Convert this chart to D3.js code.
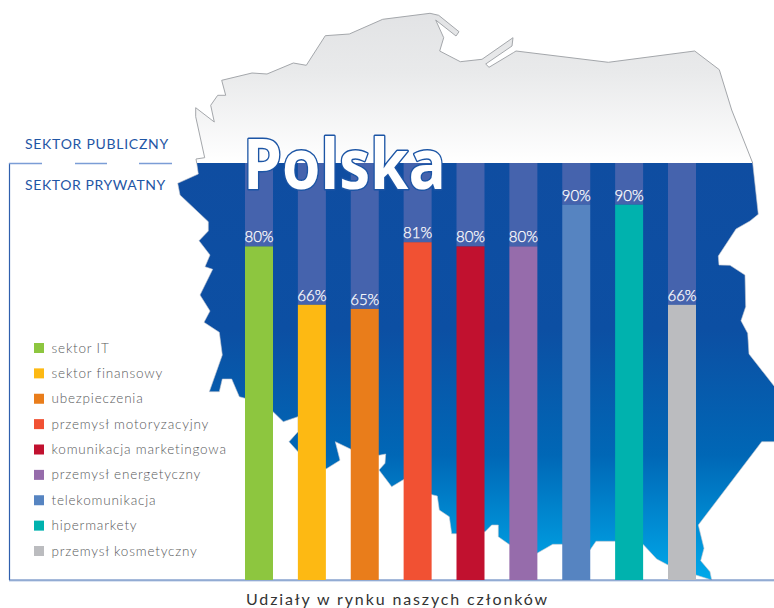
<!DOCTYPE html>
<html><head>
<meta charset="utf-8">
<title>Polska</title>
<script src="https://d3js.org/d3.v7.min.js"></script>
<style>
  html, body { margin: 0; padding: 0; background: #fff; }
  svg { display: block; }
  text { font-family: Lato, sans-serif; }
</style>
</head>
<body>
<svg id="chart" width="774" height="608"></svg>
<script>
// categories and values
const sectors = ["sektor IT", "sektor finansowy", "ubezpieczenia", "przemysł motoryzacyjny",
  "komunikacja marketingowa", "przemysł energetyczny", "telekomunikacja", "hipermarkety", "przemysł kosmetyczny"];
const privateShare = [80, 66, 65, 81, 80, 80, 90, 90, 66];
const sectorColors = ["#8dc63f", "#fdb913", "#e97d1b", "#f15133", "#c1112f", "#966cab", "#5684c1", "#00b2ae", "#bbbcbf"];

// outline of the country
const mapOutline = [[196.7,163],[196,159],[204.7,157.7],[195.7,116.7],[195.7,107.7],[214.3,122],[210.7,105.3],[217.7,95.3],
  [225.7,95.3],[221.7,80.3],[252,73],[267,74],[293.3,63],[306.3,65.3],[325.3,35.7],[349.3,34],[382.7,19.3],[430,13.3],
  [438.7,15.3],[459,31.7],[456,36],[435.7,20],[443.7,37.7],[439.7,51],[460.3,61.7],[482,59.3],[513,37.7],[512,46],
  [485.7,64],[489,67.3],[513.3,52.7],[516,51],[608.3,62.3],[694.7,51],[719.3,69.7],[731.7,110],[752.7,163],[758.3,214.3],
  [750,221],[736,229],[718.3,256],[719,265],[730,265.3],[745,275],[745.7,306.7],[741,320.7],[747.7,333.3],[749,354],
  [778,391],[778,441.7],[761.7,441.7],[698.3,525],[704,548.3],[700.7,560.7],[710,571.7],[711.7,580],[696,575],[668,565],
  [656.7,559],[643,544.3],[625,541.3],[596,541.3],[590,550],[562,544.3],[552.7,544.3],[537,553.3],[509,544.3],[498.3,536.7],
  [498.3,525],[491.7,525],[485,531.7],[457,533.7],[451.7,533.7],[449.3,516.7],[439.3,510],[437.3,496],[432,494.7],[404,479.3],
  [391.7,486.7],[379,470],[385,463.3],[385.7,454],[379,455.3],[351,449.3],[335.3,441.7],[340,460.3],[326,469],[298,451.7],
  [289,441.7],[298,431.7],[298,416.7],[283.3,421.7],[273,411.7],[245,398.3],[239.3,396.7],[231.7,379],[222.3,379],[219.3,391.7],
  [209.3,391.7],[222.3,355],[219.3,332.3],[204,322.3],[210,311],[200,295],[212.7,269.3],[205,266.7],[210,255],[199,240.7],
  [208.3,231],[208.3,221.7],[180,195],[177.7,183.3],[198.3,174]];

const svg = d3.select("#chart");
const baseY = 580, topY = 163;

let xScale = d3.scaleBand().domain(sectors).range([245, 696]).paddingInner(1 - 28 / 52.875).paddingOuter(0);
let yScale = d3.scaleLinear().domain([0, 100]).range([baseY, topY]);

// gradients for the two halves of the map
let defs = svg.append("defs");
let grayGrad = defs.append("linearGradient").attr("id", "grayGrad")
  .attr("gradientUnits", "userSpaceOnUse").attr("x1", 0).attr("x2", 0).attr("y1", 13).attr("y2", topY);
grayGrad.append("stop").attr("offset", 0).attr("stop-color", "#e2e3e5");
grayGrad.append("stop").attr("offset", 0.4).attr("stop-color", "#e9eaeb");
grayGrad.append("stop").attr("offset", 1).attr("stop-color", "#ffffff");

let blueGrad = defs.append("linearGradient").attr("id", "blueGrad")
  .attr("gradientUnits", "userSpaceOnUse").attr("x1", 0).attr("x2", 0).attr("y1", topY).attr("y2", baseY);
blueGrad.append("stop").attr("offset", 0).attr("stop-color", "#0f4da1");
blueGrad.append("stop").attr("offset", 0.4).attr("stop-color", "#0c4fa3");
blueGrad.append("stop").attr("offset", 0.7).attr("stop-color", "#0067b6");
blueGrad.append("stop").attr("offset", 1).attr("stop-color", "#00a9ea");

defs.append("clipPath").attr("id", "upperClip").append("rect")
  .attr("x", 0).attr("y", 0).attr("width", 774).attr("height", topY);
defs.append("clipPath").attr("id", "lowerClip").append("rect")
  .attr("x", 0).attr("y", topY).attr("width", 774).attr("height", baseY - topY);

let outlinePath = d3.line().curve(d3.curveLinearClosed)(mapOutline);

svg.append("path").attr("d", outlinePath)
  .attr("clip-path", "url(#upperClip)")
  .style("fill", "url(#grayGrad)").style("stroke", "#a4a7ab").style("stroke-width", 1);
svg.append("path").attr("d", outlinePath)
  .attr("clip-path", "url(#lowerClip)")
  .style("fill", "url(#blueGrad)").style("stroke", "#c4c8d0").style("stroke-width", 0.6);

// bracket on the left + dashed split line
svg.append("path").attr("d", `M9.5,${topY} V${baseY}`).style("stroke", "#2f5fae").style("stroke-width", 1.2).style("fill", "none");
svg.append("line").attr("x1", 9).attr("x2", 774).attr("y1", baseY + 1).attr("y2", baseY + 1)
  .style("stroke", "#b5c8e6").style("stroke-width", 1);
svg.append("line").attr("x1", 9).attr("x2", 774).attr("y1", baseY).attr("y2", baseY)
  .style("stroke", "#4a72b4").style("stroke-width", 1);
[[9, 42], [75, 107], [139, 172]].forEach(function(d) {
  svg.append("line").attr("x1", d[0]).attr("x2", d[1]).attr("y1", topY + 0.5).attr("y2", topY + 0.5)
    .style("stroke", "#7b9dd6").style("stroke-width", 1.5);
});

svg.append("text").attr("x", 25).attr("y", 149).text("SEKTOR PUBLICZNY")
  .style("font-size", "14px").style("fill", "#1f56a5").style("letter-spacing", "0.72px");
svg.append("text").attr("x", 25).attr("y", 190).text("SEKTOR PRYWATNY")
  .style("font-size", "14px").style("fill", "#1f56a5").style("letter-spacing", "0.6px");

// bars: full height back bar, then the value on top of it
sectors.forEach(function(d, i) {
  svg.append("rect")
    .attr("x", xScale(d)).attr("width", xScale.bandwidth())
    .attr("y", yScale(100)).attr("height", yScale(privateShare[i]) - yScale(100))
    .style("fill", "#4563ad");
  svg.append("rect")
    .attr("x", xScale(d)).attr("width", xScale.bandwidth())
    .attr("y", yScale(privateShare[i])).attr("height", baseY - yScale(privateShare[i]))
    .style("fill", sectorColors[i]);
  svg.append("text")
    .attr("x", xScale(d) + xScale.bandwidth() / 2).attr("y", yScale(privateShare[i]) - 4)
    .attr("text-anchor", "middle").text(privateShare[i] + "%")
    .style("font-size", "15px").style("font-weight", 300).style("fill", "#fff")
    .style("stroke", "#fff").style("stroke-width", 0.25);
});

svg.append("text").attr("x", 243).attr("y", 189).text("Polska")
  .attr("textLength", 203).attr("lengthAdjust", "spacingAndGlyphs")
  .style("font-family", "'Open Sans', sans-serif").style("font-weight", 700).style("font-size", "69px")
  .style("fill", "#fff").style("stroke", "#1c55a5").style("stroke-width", 3)
  .style("stroke-linejoin", "round").style("paint-order", "stroke");

// legend
let legendY = d3.scalePoint().domain(sectors).range([348, 551]);
sectors.forEach(function(d, i) {
  svg.append("rect").attr("x", 34).attr("y", legendY(d) - 5).attr("width", 10).attr("height", 10)
    .style("fill", sectorColors[i]);
  svg.append("text").attr("x", 51.5).attr("y", legendY(d) + 4.5).text(d)
    .style("font-size", "13.5px").style("font-weight", 300).style("fill", "#58595b").style("letter-spacing", "0.8px");
});

svg.append("text").attr("x", 246).attr("y", 605).text("Udziały w rynku naszych członków")
  .style("font-size", "16px").style("fill", "#333").style("letter-spacing", "1.87px");
</script>
</body></html>
